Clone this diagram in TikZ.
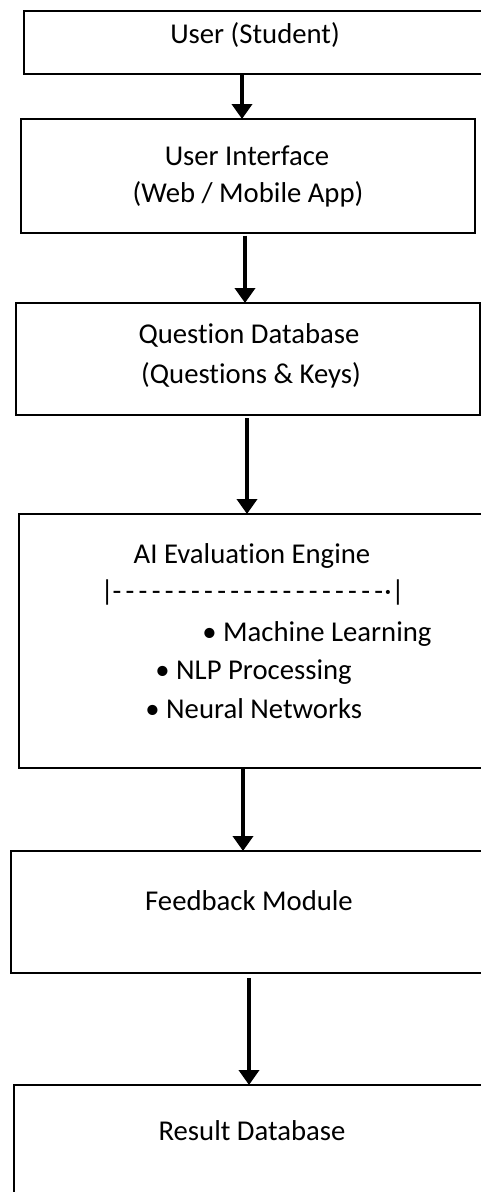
\documentclass[tikz,border=0pt]{standalone}
\usepackage{fontspec}
\setmainfont{Carlito}[Ligatures=NoCommon]
\usetikzlibrary{arrows.meta}
\newcommand\dsh{\makebox[13.1pt]{-}}
\begin{document}
\begin{tikzpicture}[x=1pt,y=-1pt,
  box/.style={draw, line width=2.6pt, rectangle, inner sep=0pt, outer sep=0pt},
  lbl/.style={anchor=base, inner sep=0pt, font=\fontsize{28.7}{34}\selectfont},
  blt/.style={anchor=base west, inner sep=0pt, font=\fontsize{28.7}{34}\selectfont},
  arr/.style={line width=4pt, -{Triangle[width=20pt,length=15pt]}}]
\useasboundingbox (0,0) rectangle (481,1192);
\clip (0,0) rectangle (481,1192);
% boxes
\node[box, minimum width=476pt, minimum height=63pt]  (b1) at (262,42.5) {};
\node[box, minimum width=454pt, minimum height=114pt] (b2) at (248,176) {};
\node[box, minimum width=464pt, minimum height=112pt] (b3) at (248,359) {};
\node[box, minimum width=481pt, minimum height=254pt] (b4) at (259.5,641) {};
\node[box, minimum width=489pt, minimum height=122pt] (b5) at (255.5,912) {};
\node[box, minimum width=486pt, minimum height=135pt] (b6) at (257,1152.5) {};
% texts
\node[lbl] (t1) at (255,43.5) {User (Student)};
\node[lbl] (t2a) at (247,165) {User Interface};
\node[lbl] (t2b) at (248,202) {(Web / Mobile App)};
\node[lbl] (t3a) at (249,343) {Question Database};
\node[lbl] (t3b) at (251,383) {(Questions \& Keys)};
\node[lbl] (t4) at (252,563) {AI Evaluation Engine};
\node[blt] (t4d) at (107,600) {\makebox[0pt]{|}\hspace{3.15pt}\dsh\dsh\dsh\dsh\dsh\dsh\dsh\dsh\dsh\dsh\dsh\dsh\dsh\dsh\dsh\dsh\dsh\dsh\dsh\dsh\dsh\hspace{2.75pt}\makebox[0pt]{·}\hspace{10pt}\makebox[0pt]{|}};
\node[blt] (t4e) at (223,641) {\llap{•\ }Machine Learning};
\node[blt] (t4f) at (176,679) {\llap{•\ }NLP Processing};
\node[blt] (t4g) at (166,718) {\llap{•\ }Neural Networks};
\node[lbl] (t5) at (249,910) {Feedback Module};
\node[lbl] (t6) at (252,1140) {Result Database};
% arrow x positions
\coordinate (x1) at (242,0);
\coordinate (x2) at (245,0);
\coordinate (x3) at (247,0);
\coordinate (x4) at (243,0);
\coordinate (x5) at (249,0);
% connectors
\draw[arr] (b1.south -| x1) -- (b2.north -| x1);
\draw[arr, shorten <=2.5pt] (b2.south -| x2) -- (b3.north -| x2);
\draw[arr, shorten <=3pt] (b3.south -| x3) -- (b4.north -| x3);
\draw[arr] (b4.south -| x4) -- (b5.north -| x4);
\draw[arr, shorten <=5pt] (b5.south -| x5) -- (b6.north -| x5);
\end{tikzpicture}
\end{document}
